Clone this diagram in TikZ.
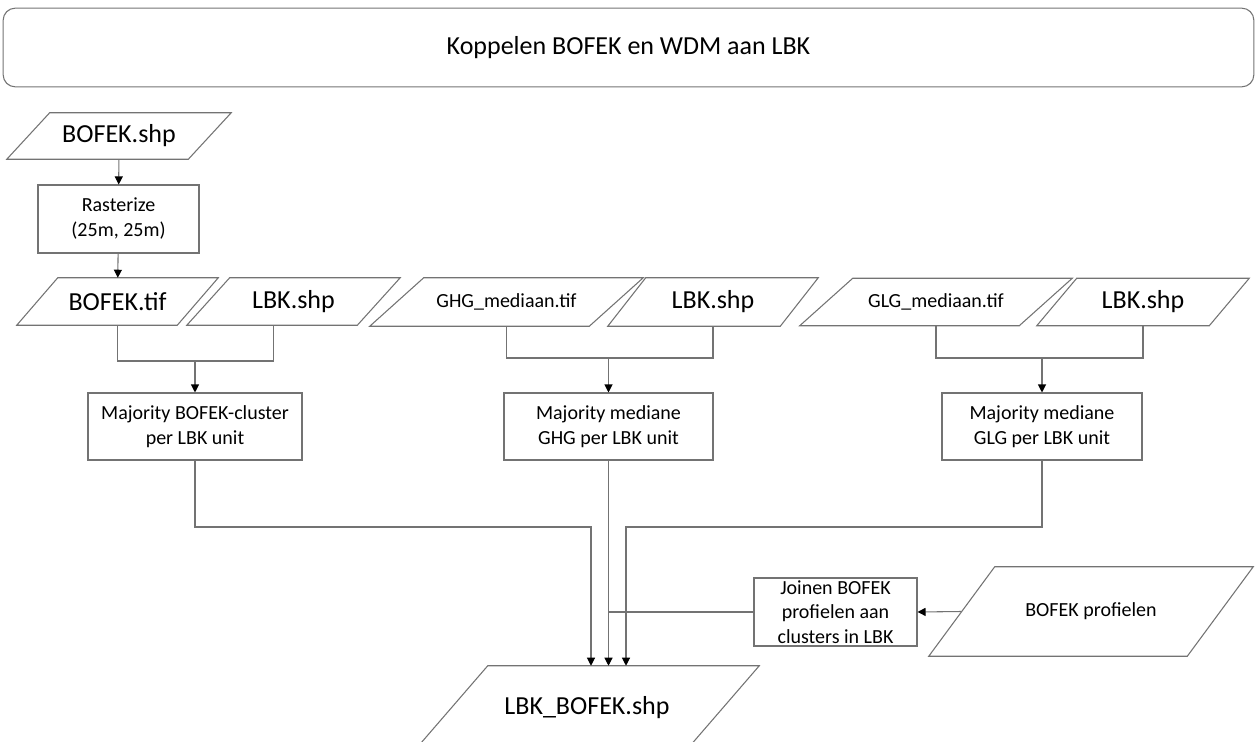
\documentclass[tikz,border=0pt]{standalone}
\usepackage{fontspec}
\setmainfont{Carlito}
\usetikzlibrary{positioning,arrows.meta,calc}

\begin{document}
\begin{tikzpicture}[x=0.75pt,y=-0.75pt,
    io/.style={rectangle,inner sep=0pt,font=\fontsize{19.5}{23}\selectfont},
    box/.style={rectangle,draw=black!55,line width=0.8pt,inner sep=0pt,align=center,font=\fontsize{15}{18.75}\selectfont},
    lin/.style={draw=black!55,line width=0.8pt},
    arr/.style={lin,-{Triangle[length=6pt,width=6pt,color=black]}}]
    \useasboundingbox (0,0) rectangle (1258,742);
    \node[draw=black!55,line width=0.8pt,rounded corners=9pt,minimum width=938pt,minimum height=59pt,font=\fontsize{19.5}{23}\selectfont] (title) at (628.5,47.5) {Koppelen BOFEK en WDM aan LBK};

    \node[io,minimum width=135.75pt,minimum height=34.5pt] (fshp) at (119,136) {BOFEK.shp};
    \node[box,minimum width=120.75pt,minimum height=51pt] (rast) at (118.5,219) {Rasterize\\(25m, 25m)};

    \node[io,minimum width=120pt,minimum height=35.25pt] (ftif) at (117.5,301.5) {BOFEK.tif};
    \node[io,minimum width=127.5pt,minimum height=35.25pt] (lbka) at (293.5,301.5) {LBK.shp};
    \node[io,minimum width=164.25pt,minimum height=36pt,font=\fontsize{15}{18}\selectfont] (ghg) at (506.5,302) {GHG\_mediaan.tif};
    \node[io,minimum width=129pt,minimum height=36pt] (lbkb) at (713,302) {LBK.shp};
    \node[io,minimum width=164.25pt,minimum height=35.25pt,font=\fontsize{15}{18}\selectfont] (glg) at (936,302) {GLG\_mediaan.tif};
    \node[io,minimum width=129pt,minimum height=35.25pt] (lbkc) at (1143,302) {LBK.shp};

    \node[box,minimum width=160.5pt,minimum height=50.25pt] (clus) at (195,426.5) {Majority BOFEK-cluster\\per LBK unit};
    \node[box,minimum width=156.75pt,minimum height=50.25pt] (ghgbox) at (608.5,426.5) {Majority mediane\\GHG per LBK unit};
    \node[box,minimum width=150pt,minimum height=50.25pt] (glgbox) at (1042,426.5) {Majority mediane\\GLG per LBK unit};

    \node[box,minimum width=122.25pt,minimum height=51pt,font=\fontsize{15}{18.2}\selectfont] (join) at (835.5,612) {Joinen BOFEK\\profielen aan\\clusters in LBK};
    \node[io,minimum width=193.5pt,minimum height=66.75pt,font=\fontsize{15}{18}\selectfont] (prof) at (1091,611.5) {BOFEK profielen};
    \node[io,minimum width=203.25pt,minimum height=63pt] (out) at (587,708) {LBK\_BOFEK.shp};

    \foreach \n/\s in {fshp/16.1,ftif/15.4,lbka/16.1,ghg/20.25,lbkb/14.25,glg/19.9,lbkc/15,prof/24.75,out/27.4}
        \draw[lin] ([xshift=-\s pt]\n.south west) -- ([xshift=-\s pt]\n.south east) -- ([xshift=\s pt]\n.north east) -- ([xshift=\s pt]\n.north west) -- cycle;

    \coordinate (j1) at (195,361);
    \coordinate (j2) at (608.5,358);
    \coordinate (j3) at (1042,358);
    \coordinate (k1) at (591,527);
    \coordinate (k3) at (626,527);

    \draw[arr] (fshp) -- (rast);
    \draw[arr] (rast) -- (ftif);
    \draw[lin] (ftif.south) |- (j1) -| ($(lbka.south)+(-20,0)$);
    \draw[lin] (ghg.south) |- (j2) -| (lbkb.south);
    \draw[lin] (glg.south) |- (j3) -| (lbkc.south);
    \draw[arr] (j1) -- (clus);
    \draw[arr] (j2) -- (ghgbox);
    \draw[arr] (j3) -- (glgbox);

    \draw[arr] (clus.south) |- (k1) -- (k1 |- out.north);
    \draw[arr] (ghgbox.south) -- (ghgbox.south |- out.north);
    \draw[arr] (glgbox.south) |- (k3) -- (k3 |- out.north);
    \draw[lin] (join.west) -- (join.west -| ghgbox.south);
    \draw[arr] (prof.west) -- (join.east);
\end{tikzpicture}
\end{document}
